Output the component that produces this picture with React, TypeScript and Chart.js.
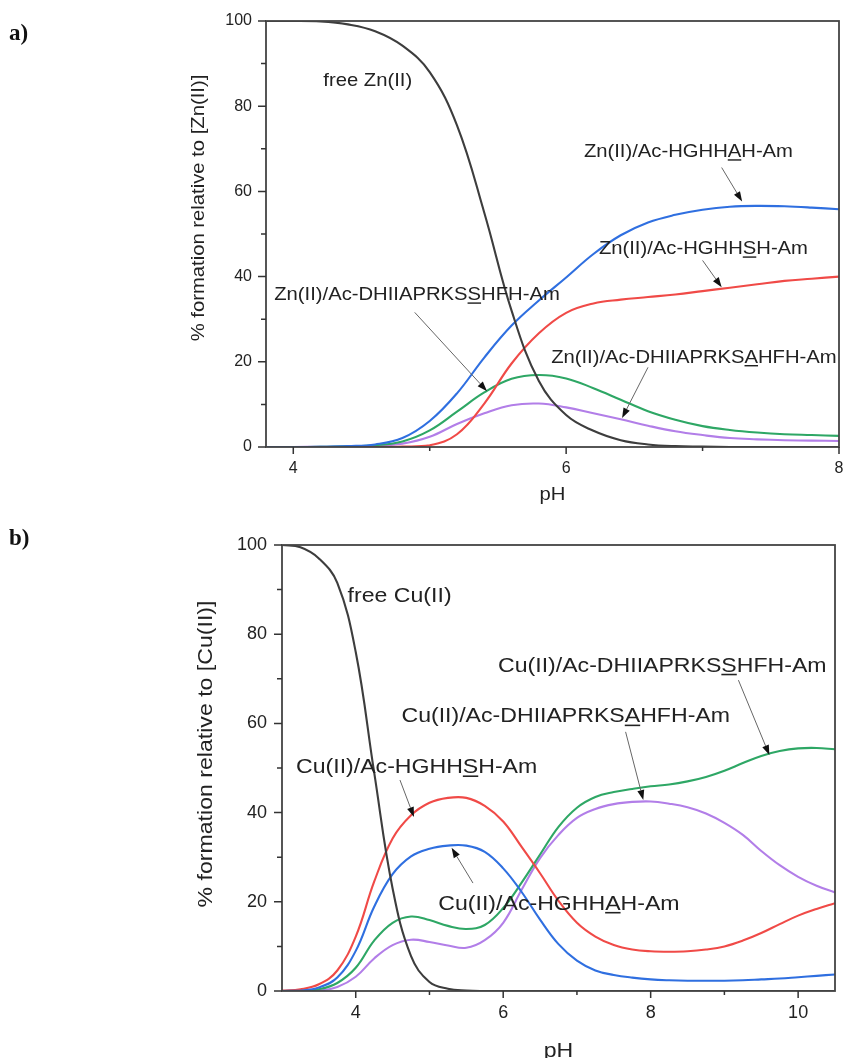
import React, { useEffect, useRef } from 'react';
import { Chart, registerables } from 'chart.js';

Chart.register(...registerables);

// ---------- Panel a) Zn(II) ----------
const phA = [3.8, 4.0, 4.2, 4.4, 4.6, 4.8, 5.0, 5.2, 5.4, 5.6, 5.8, 6.0, 6.2, 6.4, 6.6, 6.8, 7.0, 7.2, 7.4, 7.6, 7.8, 8.0];
const freeZn = [100, 100, 99.9, 99.2, 97.6, 94.2, 88, 75.5, 55, 32, 15.5, 7.5, 3.8, 1.6, 0.6, 0.2, 0.1, 0, 0, 0, 0, 0];
const znHGHHAH = [0, 0, 0.05, 0.2, 0.6, 2.1, 6.1, 12.6, 21, 28.5, 34.4, 39.8, 45.3, 49.7, 52.7, 54.5, 55.7, 56.4, 56.6, 56.5, 56.2, 55.8];
const znHGHHSH = [0, 0, 0, 0, 0, 0.1, 0.4, 3.0, 10.2, 19.6, 26.7, 31.5, 33.7, 34.6, 35.2, 35.8, 36.6, 37.4, 38.2, 39, 39.5, 40];
const znDHSS = [0, 0, 0.05, 0.15, 0.4, 1.3, 3.9, 8.3, 12.8, 16, 16.9, 16.1, 13.8, 11.1, 8.4, 6.4, 4.9, 4, 3.4, 3, 2.8, 2.6];
const znDHSA = [0, 0, 0.05, 0.1, 0.3, 0.8, 2.4, 5.4, 7.9, 9.8, 10.2, 9.3, 7.9, 6.5, 5, 3.7, 2.8, 2.1, 1.8, 1.6, 1.5, 1.4];
const xTicksA = [4, 5, 6, 7, 8];
const xLabelsA = [4, 6, 8];
const yTicks = [0, 10, 20, 30, 40, 50, 60, 70, 80, 90, 100];
const yLabels = [0, 20, 40, 60, 80, 100];

const annTextA = ['free Zn(II)', 'Zn(II)/Ac-HGHHAH-Am', 'Zn(II)/Ac-HGHHSH-Am', 'Zn(II)/Ac-DHIIAPRKSSHFH-Am', 'Zn(II)/Ac-DHIIAPRKSAHFH-Am'];
const annPhA = [4.22, 6.13, 6.24, 3.86, 5.89];
const annPctA = [86.4, 69.6, 46.8, 36, 21.3];
const annUnderA = [-1, 14, 14, 19, 19];
const arrFromA = [[7.14, 65.6], [7.0, 43.8], [4.89, 31.6], [6.6, 18.7]];
const arrToA = [[7.29, 57.6], [7.14, 37.5], [5.42, 13.1], [6.41, 6.8]];

// ---------- Panel b) Cu(II) ----------
const phB = [3.0, 3.25, 3.5, 3.75, 4.0, 4.25, 4.5, 4.75, 5.0, 5.25, 5.5, 5.75, 6.0, 6.25, 6.5, 6.75, 7.0, 7.25, 7.5, 7.75, 8.0, 8.25, 8.5, 8.75, 9.0, 9.25, 9.5, 9.75, 10.0, 10.25, 10.5];
const freeCu = [100, 99.5, 97, 91.5, 76, 49, 23, 7.8, 2, 0.5, 0.1, 0, 0, 0, 0, 0, 0, 0, 0, 0, 0, 0, 0, 0, 0, 0, 0, 0, 0, 0, 0];
const cuHGHHSH = [0.1, 0.4, 1.5, 4.6, 12.2, 24.5, 34.2, 39.4, 42.2, 43.3, 43.3, 41.5, 38, 32.3, 26.4, 20.2, 15.3, 12.2, 10.3, 9.3, 8.9, 8.8, 8.9, 9.3, 10, 11.3, 13, 15, 16.9, 18.4, 19.7];
const cuHGHHAH = [0, 0.1, 0.8, 3, 9, 18.9, 26.2, 30.2, 31.9, 32.6, 32.6, 31.2, 27.5, 22.2, 16, 10.5, 6.8, 4.6, 3.6, 3, 2.6, 2.4, 2.3, 2.3, 2.3, 2.4, 2.6, 2.8, 3.1, 3.4, 3.7];
const cuDHSS = [0, 0.05, 0.4, 1.8, 5.2, 11.3, 15.3, 16.7, 15.9, 14.6, 13.9, 14.8, 18.6, 24.3, 30.6, 36.8, 41.1, 43.5, 44.6, 45.3, 45.9, 46.3, 47, 48, 49.4, 51.1, 52.7, 53.8, 54.4, 54.5, 54.2];
const cuDHSA = [0, 0, 0.1, 0.9, 3.2, 7.3, 10.3, 11.5, 11, 10.2, 9.7, 11.4, 15.3, 22.7, 29.8, 35, 38.8, 40.8, 41.9, 42.4, 42.5, 42, 41.2, 39.8, 37.7, 35, 31.4, 28.2, 25.6, 23.6, 22.1];
const xTicksB = [4, 5, 6, 7, 8, 9, 10];
const xLabelsB = [4, 6, 8, 10];

const annTextB = ['free Cu(II)', 'Cu(II)/Ac-DHIIAPRKSSHFH-Am', 'Cu(II)/Ac-DHIIAPRKSAHFH-Am', 'Cu(II)/Ac-HGHHSH-Am', 'Cu(II)/Ac-HGHHAH-Am'];
const annPhB = [3.89, 5.93, 4.62, 3.19, 5.12];
const annPctB = [88.9, 73.3, 61.9, 50.5, 19.9];
const annUnderB = [-1, 19, 19, 14, 14];
const arrFromB = [[9.19, 69.7], [7.66, 58.1], [4.6, 47.3], [5.59, 24.2]];
const arrToB = [[9.61, 52.9], [7.9, 42.8], [4.79, 39], [5.3, 32.1]];

const COLORS = { free: '#3d3d3d', blue: '#2f6fe0', red: '#f04a47', green: '#2ea765', purple: '#b27ee8' };
const SANS = "'Liberation Sans', Arial, Helvetica, sans-serif";
const SERIF = "'Liberation Serif', 'Times New Roman', serif";

function drawText(ctx: CanvasRenderingContext2D, text: string, x: number, cy: number, size: number, stretch: number, under: number, align: 'left' | 'center' = 'left', rot = 0) {
  ctx.save();
  ctx.translate(x, cy);
  if (rot) ctx.rotate(rot);
  ctx.scale(stretch, 1);
  ctx.font = `${size}px ${SANS}`;
  ctx.fillStyle = '#222';
  ctx.textBaseline = 'alphabetic';
  const w = ctx.measureText(text).width;
  const x0 = align === 'center' ? -w / 2 : 0;
  const base = size * 0.36;
  ctx.textAlign = 'left';
  ctx.fillText(text, x0, base);
  if (under >= 0) {
    const pre = ctx.measureText(text.slice(0, under)).width;
    const cw = ctx.measureText(text[under]).width;
    ctx.fillRect(x0 + pre, base + size * 0.1, cw, Math.max(1.4, size * 0.075));
  }
  ctx.restore();
}

const decorPlugin = {
  id: 'figDecor',
  afterDraw(chart: any, _args: any, o: any) {
    const ctx: CanvasRenderingContext2D = chart.ctx;
    const { left, right, top, bottom } = chart.chartArea;
    const xs = chart.scales.x;
    const ys = chart.scales.y;
    ctx.save();
    // frame
    ctx.strokeStyle = '#444';
    ctx.lineWidth = 1.8;
    ctx.strokeRect(left, top, right - left, bottom - top);
    // ticks
    ctx.strokeStyle = '#333';
    ctx.lineWidth = 1.5;
    ctx.beginPath();
    o.xTicks.forEach((v: number) => {
      const px = xs.getPixelForValue(v);
      const len = o.xLabels.includes(v) ? 7 : 4;
      ctx.moveTo(px, bottom);
      ctx.lineTo(px, bottom + len);
    });
    o.yTicks.forEach((v: number) => {
      const py = ys.getPixelForValue(v);
      const len = o.yLabels.includes(v) ? 8 : 5;
      ctx.moveTo(left, py);
      ctx.lineTo(left - len, py);
    });
    ctx.stroke();
    // arrows
    o.arrFrom.forEach((f: number[], i: number) => {
      const t = o.arrTo[i];
      const x1 = xs.getPixelForValue(f[0]), y1 = ys.getPixelForValue(f[1]);
      const x2 = xs.getPixelForValue(t[0]), y2 = ys.getPixelForValue(t[1]);
      const ang = Math.atan2(y2 - y1, x2 - x1);
      const hl = 10, hw = 3.5;
      const bx = x2 - hl * Math.cos(ang), by = y2 - hl * Math.sin(ang);
      ctx.strokeStyle = '#666';
      ctx.lineWidth = 1;
      ctx.beginPath();
      ctx.moveTo(x1, y1);
      ctx.lineTo(bx, by);
      ctx.stroke();
      ctx.fillStyle = '#111';
      ctx.beginPath();
      ctx.moveTo(x2, y2);
      ctx.lineTo(bx + hw * Math.sin(ang), by - hw * Math.cos(ang));
      ctx.lineTo(bx - hw * Math.sin(ang), by + hw * Math.cos(ang));
      ctx.closePath();
      ctx.fill();
    });
    // annotations
    o.annText.forEach((s: string, i: number) => {
      drawText(ctx, s, xs.getPixelForValue(o.annPh[i]), ys.getPixelForValue(o.annPct[i]), o.annSize, o.stretch, o.annUnder[i]);
    });
    // axis titles
    drawText(ctx, o.yTitle, o.yTitleX, o.yTitleY, o.titleSize, o.stretch, -1, 'center', -Math.PI / 2);
    drawText(ctx, 'pH', (left + right) / 2, o.xTitleY, o.titleSize, o.stretch, -1, 'center');
    // panel letter
    ctx.font = `bold 23px ${SERIF}`;
    ctx.fillStyle = '#111';
    ctx.textAlign = 'left';
    ctx.textBaseline = 'alphabetic';
    ctx.fillText(o.panel, 9, o.panelY);
    ctx.restore();
  },
};

function buildConfig(p: any) {
  const mk = (label: string, vals: number[], color: string) => ({
    label,
    data: p.xs.map((x: number, i: number) => ({ x, y: vals[i] })),
    borderColor: color,
    borderWidth: 2.1,
    pointRadius: 0,
    fill: false,
    tension: 0.4,
  });
  return {
    type: 'line',
    data: { datasets: p.series.map((s: any) => mk(s[0], s[1], s[2])) },
    options: {
      responsive: false,
      animation: false,
      devicePixelRatio: 1,
      layout: { padding: { left: 0, top: p.padTop, right: p.padRight, bottom: 0 } },
      plugins: {
        legend: { display: false },
        tooltip: { enabled: false },
        figDecor: p.decor,
      },
      scales: {
        x: {
          type: 'linear',
          min: p.xMin,
          max: p.xMax,
          grid: { display: false, drawTicks: false },
          border: { display: false },
          ticks: {
            autoSkip: false,
            maxRotation: 0,
            padding: p.xPad,
            color: '#222',
            font: { family: SANS, size: p.tickSize },
            callback: (v: number) => (p.decor.xLabels.includes(v) ? String(v) : ''),
          },
          afterBuildTicks: (s: any) => {
            s.ticks = p.decor.xTicks.map((v: number) => ({ value: v }));
          },
          afterFit: (s: any) => {
            s.height = p.xHeight;
            s.paddingLeft = 0;
            s.paddingRight = 0;
          },
        },
        y: {
          type: 'linear',
          min: 0,
          max: 100,
          grid: { display: false, drawTicks: false },
          border: { display: false },
          ticks: {
            autoSkip: false,
            padding: p.yPad,
            color: '#222',
            font: { family: SANS, size: p.tickSize },
            callback: (v: number) => (yLabels.includes(v) ? String(v) : ''),
          },
          afterBuildTicks: (s: any) => {
            s.ticks = yTicks.map((v: number) => ({ value: v }));
          },
          afterFit: (s: any) => {
            s.width = p.yWidth;
            s.paddingTop = 0;
            s.paddingBottom = 0;
          },
        },
      },
    },
    plugins: [decorPlugin],
  };
}

const panelA = {
  xs: phA,
  xMin: 3.8,
  xMax: 8,
  series: [
    ['free Zn(II)', freeZn, COLORS.free],
    ['Zn(II)/Ac-HGHHAH-Am', znHGHHAH, COLORS.blue],
    ['Zn(II)/Ac-HGHHSH-Am', znHGHHSH, COLORS.red],
    ['Zn(II)/Ac-DHIIAPRKSSHFH-Am', znDHSS, COLORS.green],
    ['Zn(II)/Ac-DHIIAPRKSAHFH-Am', znDHSA, COLORS.purple],
  ],
  padTop: 21,
  padRight: 5,
  xHeight: 63,
  yWidth: 266,
  xPad: 12,
  yPad: 14,
  tickSize: 16,
  decor: {
    xTicks: xTicksA,
    xLabels: xLabelsA,
    yTicks,
    yLabels,
    annText: annTextA,
    annPh: annPhA,
    annPct: annPctA,
    annUnder: annUnderA,
    arrFrom: arrFromA,
    arrTo: arrToA,
    annSize: 19,
    titleSize: 19,
    stretch: 1.065,
    yTitle: '% formation relative to [Zn(II)]',
    yTitleX: 197,
    yTitleY: 208,
    xTitleY: 493,
    panel: 'a)',
    panelY: 40,
  },
};

const panelB = {
  xs: phB,
  xMin: 3,
  xMax: 10.5,
  series: [
    ['free Cu(II)', freeCu, COLORS.free],
    ['Cu(II)/Ac-HGHHAH-Am', cuHGHHAH, COLORS.blue],
    ['Cu(II)/Ac-HGHHSH-Am', cuHGHHSH, COLORS.red],
    ['Cu(II)/Ac-DHIIAPRKSSHFH-Am', cuDHSS, COLORS.green],
    ['Cu(II)/Ac-DHIIAPRKSAHFH-Am', cuDHSA, COLORS.purple],
  ],
  padTop: 35,
  padRight: 9,
  xHeight: 67,
  yWidth: 282,
  xPad: 11,
  yPad: 15,
  tickSize: 18,
  decor: {
    xTicks: xTicksB,
    xLabels: xLabelsB,
    yTicks,
    yLabels,
    annText: annTextB,
    annPh: annPhB,
    annPct: annPctB,
    annUnder: annUnderB,
    arrFrom: arrFromB,
    arrTo: arrToB,
    annSize: 21,
    titleSize: 21,
    stretch: 1.1,
    yTitle: '% formation relative to [Cu(II)]',
    yTitleX: 204,
    yTitleY: 244,
    xTitleY: 539,
    panel: 'b)',
    panelY: 35,
  },
};

function Panel({ cfg, top, height }: { cfg: any; top: number; height: number }) {
  const ref = useRef<HTMLCanvasElement>(null);
  useEffect(() => {
    if (!ref.current) return;
    const chart = new Chart(ref.current, buildConfig(cfg) as any);
    return () => chart.destroy();
  }, [cfg]);
  return (
    <canvas
      ref={ref}
      width={844}
      height={height}
      style={{ position: 'absolute', left: 0, top, width: 844, height }}
    />
  );
}

export default function App() {
  return (
    <div style={{ position: 'absolute', left: 0, top: 0, width: 844, height: 1058, background: '#fff', overflow: 'hidden' }}>
      <Panel cfg={panelA} top={0} height={510} />
      <Panel cfg={panelB} top={510} height={548} />
    </div>
  );
}
